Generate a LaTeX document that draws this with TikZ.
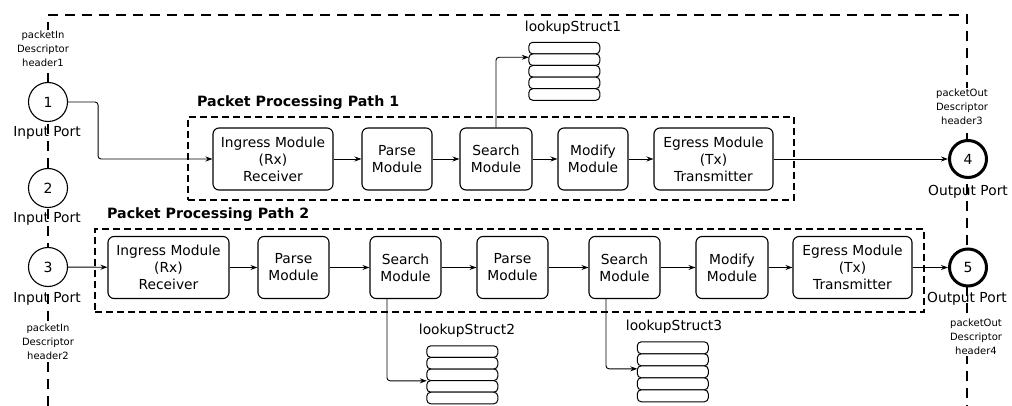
\documentclass[tikz,border=0pt]{standalone}
\usepackage{fontspec}
\setmainfont{DejaVu Sans}
\usetikzlibrary{arrows.meta,calc}
\begin{document}
\begin{tikzpicture}[x=1pt,y=-1pt,
  mod/.style={draw, line width=1.1pt, rounded corners=6pt, minimum height=62pt,
    align=center, font=\fontsize{13.8}{17}\selectfont, inner sep=0pt},
  port/.style={circle, draw, fill=white, line width=1.1pt, minimum size=39pt,
    inner sep=0pt, font=\fontsize{14}{16}\selectfont},
  oport/.style={port, line width=3pt, minimum size=37pt},
  lbl/.style={font=\fontsize{13.8}{16}\selectfont, inner sep=1pt},
  desc/.style={font=\fontsize{10}{13.8}\selectfont, align=center, fill=white, inner sep=1pt},
  pathbox/.style={draw, line width=1.1pt, dash pattern=on 7pt off 4pt, inner sep=0pt},
  ttl/.style={font=\bfseries\fontsize{14.2}{16}\selectfont, anchor=west, inner sep=0pt},
  store/.style={minimum width=71pt, minimum height=58pt, inner sep=0pt},
  row/.style={draw, line width=1pt, rounded corners=4pt, fill=white},
  outer/.style={line width=1.2pt, dash pattern=on 10pt off 7pt},
  arr/.style={line width=0.9pt, -{Stealth[length=7pt,width=5pt]}}
]
\useasboundingbox[fill=white] (0,0) rectangle (1012,406);

% outer system boundary (runs past the lower edge)
\draw[outer] (48,406) -- (48,15) -- (967,15) -- (967,406);

% processing path frames
\node[pathbox, minimum width=606pt, minimum height=83pt] (pb1) at (491,158.5) {};
\node[pathbox, minimum width=829pt, minimum height=83pt] (pb2) at (509.5,270.5) {};
\node[ttl] (t1) at (197,103) {Packet Processing Path 1};
\node[ttl] (t2) at (107,215) {Packet Processing Path 2};

% ports
\node[port] (in1) at (48,102) {1};
\node[port] (in2) at (48,188) {2};
\node[port] (in3) at (48,267) {3};
\node[oport] (out4) at (968,159) {4};
\node[oport] (out5) at (968,267.5) {5};

\node[lbl] (l1) at (47,133) {Input Port};
\node[lbl] (l2) at (47,219) {Input Port};
\node[lbl] (l3) at (47,299) {Input Port};
\node[lbl] (l4) at (968,192) {Output Port};
\node[lbl] (l5) at (967,299) {Output Port};

\node[desc] (d1) at (43,49) {packetIn\\Descriptor\\header1};
\node[desc] (d2) at (48,342) {packetIn\\Descriptor\\header2};
\node[desc] (d3) at (962,107) {packetOut\\Descriptor\\header3};
\node[desc] (d4) at (976,337) {packetOut\\Descriptor\\header4};

% path 1 modules
\node[mod, minimum width=120pt] (ig1) at (273,159) {Ingress Module\\(Rx)\\Receiver};
\node[mod, minimum width=70pt] (pa1) at (397,159) {Parse\\Module};
\node[mod, minimum width=72pt] (se1) at (496,159) {Search\\Module};
\node[mod, minimum width=70pt] (mo1) at (593,159) {Modify\\Module};
\node[mod, minimum width=119pt] (eg1) at (713.5,159) {Egress Module\\(Tx)\\Transmitter};

% path 2 modules
\node[mod, minimum width=121pt] (ig2) at (168.5,267.5) {Ingress Module\\(Rx)\\Receiver};
\node[mod, minimum width=71pt] (pa2) at (293.5,267.5) {Parse\\Module};
\node[mod, minimum width=71pt] (se2) at (405.5,267.5) {Search\\Module};
\node[mod, minimum width=71pt] (pa3) at (512.5,267.5) {Parse\\Module};
\node[mod, minimum width=71pt] (se3) at (624.5,267.5) {Search\\Module};
\node[mod, minimum width=72pt] (mo2) at (732,267.5) {Modify\\Module};
\node[mod, minimum width=119pt] (eg2) at (852.5,267.5) {Egress Module\\(Tx)\\Transmitter};

% lookup structures
\node[store] (ls1) at (564.5,71.5) {};
\node[store] (ls2) at (462.5,375) {};
\node[store, minimum height=60pt] (ls3) at (673,372) {};
\foreach \n/\h in {ls1/11.6, ls2/11.6, ls3/12} {
  \foreach \i in {0,...,4}
    \draw[row] ($(\n.north west)+(0,\i*\h)$) rectangle ++(71,\h);
}
\node[lbl] (lt1) at (573,28) {lookupStruct1};
\node[lbl] (lt2) at (467,331) {lookupStruct2};
\node[lbl] (lt3) at (674,327) {lookupStruct3};

% connectors
\draw[arr, rounded corners=3pt] (in1.east) -- ++(30,0) |- (ig1.west);
\draw[arr] (ig1) -- (pa1);
\draw[arr] (pa1) -- (se1);
\draw[arr] (se1) -- (mo1);
\draw[arr] (mo1) -- (eg1);
\draw[arr] (eg1) -- (out4);
\draw[arr, rounded corners=3pt] (se1.north) |- ($(ls1.north west)+(0,15)$);

\draw[arr] (in3) -- (ig2);
\draw[arr] (ig2) -- (pa2);
\draw[arr] (pa2) -- (se2);
\draw[arr] (se2) -- (pa3);
\draw[arr] (pa3) -- (se3);
\draw[arr] (se3) -- (mo2);
\draw[arr] (mo2) -- (eg2);
\draw[arr] (eg2) -- (out5);
\draw[arr, rounded corners=3pt] ($(se2.south)+(-18.5,0)$) |- ($(ls2.north west)+(0,35)$);
\draw[arr, rounded corners=3pt] ($(se3.south)+(-18.5,0)$) |- ($(ls3.north west)+(0,27)$);
\end{tikzpicture}
\end{document}
